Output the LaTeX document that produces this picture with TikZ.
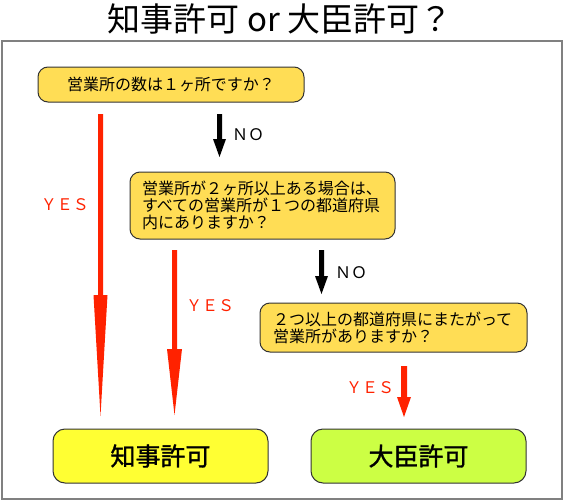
\documentclass[tikz,border=0pt]{standalone}
\usepackage{fontspec}
\newfontfamily\jp{Noto Sans CJK JP}
\newfontfamily\jpmed[FakeBold=1.3]{Noto Sans CJK JP}
\usetikzlibrary{calc}
\definecolor{qgold}{HTML}{FFDD55}
\definecolor{jyellow}{HTML}{FFFF33}
\definecolor{dgreen}{HTML}{CCFF44}
\definecolor{ared}{HTML}{FF2200}
\definecolor{edge}{HTML}{333333}
\definecolor{framegray}{HTML}{808080}
\tikzset{
  qbox/.style={draw=edge, line width=1pt, fill=qgold, rounded corners=10pt, font=\jp\fontsize{16}{17}\selectfont, inner sep=0pt},
  abox/.style={draw=edge, line width=1pt, rounded corners=12pt, minimum width=215pt, minimum height=54pt, font=\jpmed\fontsize{25}{28}\selectfont, inner sep=0pt},
  yeslbl/.style={text=ared, font=\jp\fontsize{16}{17}\selectfont, inner sep=0pt},
  nolbl/.style={text=black, font=\jp\fontsize{16}{17}\selectfont, inner sep=0pt}
}
% #1 colour, #2 start, #3 end, #4 shaft width, #5 head length, #6 head width
\newcommand\vArrow[6]{%
  \fill[#1] let \p1=(#2), \p2=(#3) in
    (\x1-#4/2,\y1) -- (\x1+#4/2,\y1) -- (\x1+#4/2,\y2+#5) -- (\x1+#6/2,\y2+#5)
    -- (\x2,\y2) -- (\x1-#6/2,\y2+#5) -- (\x1-#4/2,\y2+#5) -- cycle;}
\begin{document}
\begin{tikzpicture}[x=1pt,y=-1pt]
\useasboundingbox (0,0) rectangle (563,501);
\fill[white] (0,0) rectangle (563,501);
\node[font=\jp\fontsize{33}{35}\selectfont, inner sep=0pt] (title) at (280,19) {知事許可 or 大臣許可？};
\draw[framegray, line width=2pt] (2,41) rectangle (561.5,499);

\node[qbox, minimum width=266pt, minimum height=35pt] (q1) at (171,84.5) {営業所の数は１ヶ所ですか？};
\node[qbox, minimum width=265pt, minimum height=67pt, text width=241pt, align=left] (q2) at (262.5,205.5) {営業所が２ヶ所以上ある場合は、\\すべての営業所が１つの都道府県\\内にありますか？};
\node[qbox, minimum width=267pt, minimum height=49pt, text width=241pt, align=left] (q3) at (393.5,327.5) {２つ以上の都道府県にまたがって\\営業所がありますか？};

\node[abox, fill=jyellow] (gov) at (160.5,456) {知事許可};
\node[abox, fill=dgreen] (min) at (418.5,456) {大臣許可};

\coordinate (a1s) at (100.5,114);
\coordinate (a1e) at (100.5,416);
\coordinate (a2s) at (174.5,250);
\coordinate (a2e) at (174.5,415);
\coordinate (n1s) at (219.5,114);
\coordinate (n1e) at (219.5,157);
\coordinate (n2s) at (321.5,250);
\coordinate (n2e) at (321.5,294);
\coordinate (a3s) at (404,366);
\coordinate (a3e) at (404,417);

\vArrow{ared}{a1s}{a1e}{5pt}{121pt}{14pt}
\vArrow{ared}{a2s}{a2e}{5pt}{66pt}{15pt}
\vArrow{black}{n1s}{n1e}{5pt}{18pt}{13pt}
\vArrow{black}{n2s}{n2e}{5pt}{18pt}{13pt}
\vArrow{ared}{a3s}{a3e}{6pt}{20pt}{14pt}

\node[yeslbl] (y1) at (65,205) {ＹＥＳ};
\node[yeslbl] (y2) at (210,306) {ＹＥＳ};
\node[yeslbl] (y3) at (370,388) {ＹＥＳ};
\node[nolbl] (no1) at (248,135) {ＮＯ};
\node[nolbl] (no2) at (351,273) {ＮＯ};
\end{tikzpicture}
\end{document}
